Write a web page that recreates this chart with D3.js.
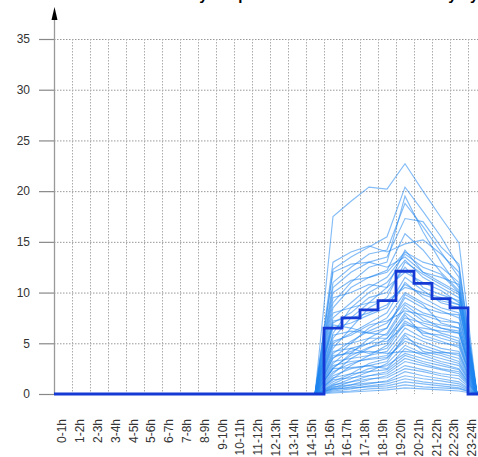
<!DOCTYPE html>
<html>
<head>
<meta charset="utf-8">
<script src="https://cdn.jsdelivr.net/npm/d3@7"></script>
<style>
  body { margin: 0; background: #fff; }
  svg { display: block; font-family: "Liberation Sans", Arial, sans-serif; }
</style>
</head>
<body>
<script>
// hour slots on the x axis
var hours = ["0-1h","1-2h","2-3h","3-4h","4-5h","5-6h","6-7h","7-8h","8-9h","9-10h","10-11h","11-12h",
             "12-13h","13-14h","14-15h","15-16h","16-17h","17-18h","18-19h","19-20h","20-21h","21-22h","22-23h","23-24h"];
// only these hours have non-zero values, every other hour is 0
var activeHours = ["15-16h","16-17h","17-18h","18-19h","19-20h","20-21h","21-22h","22-23h"];
var yTicks = [0, 5, 10, 15, 20, 25, 30, 35];

// one row per day, values for activeHours
var days = [
  [17.5, 19.0, 20.4, 20.2, 22.7, 20.0, 17.4, 14.9],
  [12.3, 13.5, 14.5, 15.5, 20.4, 18.0, 15.5, 12.5],
  [11.0, 12.5, 13.8, 14.2, 18.8, 16.5, 14.0, 11.5],
  [10.5, 12.0, 13.0, 13.5, 17.3, 17.0, 14.5, 12.8],
  [13.0, 14.0, 14.6, 14.0, 14.8, 15.2, 13.8, 12.0],
  [9.0, 11.0, 12.5, 13.0, 19.5, 16.0, 13.0, 10.5],
  [8.5, 10.5, 11.5, 12.0, 14.0, 13.0, 12.5, 11.0],
  [12.0, 12.8, 13.0, 12.5, 13.5, 12.0, 11.5, 10.8],
  [7.5, 9.0, 10.5, 11.5, 13.8, 12.5, 11.8, 10.0],
  [6.0, 8.5, 10.0, 11.0, 13.2, 11.5, 10.5, 9.5],
  [9.5, 10.0, 10.8, 10.5, 12.0, 11.0, 10.2, 9.0],
  [5.5, 7.5, 9.0, 10.5, 14.2, 12.0, 11.0, 10.0],
  [7.0, 8.0, 9.5, 10.0, 12.5, 10.5, 9.8, 9.2],
  [4.5, 6.5, 8.5, 9.5, 13.0, 11.8, 10.8, 9.8],
  [8.0, 8.5, 9.0, 9.2, 10.5, 10.0, 9.5, 8.8],
  [6.5, 7.0, 7.8, 8.5, 11.5, 10.2, 9.0, 8.5],
  [5.0, 6.0, 7.0, 8.0, 11.0, 9.5, 8.5, 8.0],
  [3.5, 5.0, 6.5, 7.5, 10.0, 9.0, 8.2, 7.5],
  [6.8, 6.5, 6.0, 6.5, 9.5, 8.5, 8.0, 7.8],
  [4.0, 5.2, 6.2, 7.0, 9.0, 8.0, 7.5, 7.0],
  [2.5, 4.0, 5.5, 6.5, 9.8, 8.8, 7.0, 6.5],
  [5.8, 6.2, 6.0, 5.8, 8.5, 7.2, 6.8, 6.5],
  [3.0, 4.5, 5.0, 6.0, 8.8, 7.5, 6.5, 6.0],
  [4.8, 5.0, 5.5, 5.5, 7.5, 7.0, 6.5, 6.2],
  [2.0, 3.5, 4.5, 5.5, 8.0, 6.8, 6.0, 5.5],
  [4.2, 4.5, 4.0, 4.5, 7.0, 6.0, 5.8, 5.2],
  [3.8, 4.0, 4.2, 4.0, 4.2, 4.0, 4.1, 4.0],
  [1.5, 2.8, 3.8, 4.8, 7.2, 6.2, 5.5, 5.0],
  [3.2, 3.5, 3.8, 4.2, 6.5, 5.5, 5.0, 4.8],
  [2.2, 3.0, 3.5, 3.8, 6.0, 5.2, 4.5, 4.2],
  [1.2, 2.0, 3.0, 3.5, 5.5, 4.8, 4.2, 3.8],
  [2.8, 3.2, 3.4, 3.6, 5.2, 4.5, 4.0, 3.5],
  [1.8, 2.5, 2.8, 3.2, 5.8, 4.2, 3.8, 3.2],
  [0.8, 1.5, 2.2, 3.0, 4.8, 4.0, 3.5, 3.0],
  [2.5, 2.6, 2.8, 2.5, 4.5, 3.8, 3.2, 2.8],
  [1.0, 1.8, 2.5, 2.8, 4.0, 3.5, 3.0, 2.5],
  [1.6, 2.0, 2.2, 2.4, 3.8, 3.2, 2.8, 2.4],
  [0.6, 1.2, 1.8, 2.2, 3.5, 3.0, 2.5, 2.2],
  [1.4, 1.6, 1.8, 2.0, 3.2, 2.8, 2.4, 2.0],
  [0.5, 0.9, 1.4, 1.8, 2.8, 2.4, 2.0, 1.8],
  [0.9, 1.2, 1.5, 1.6, 2.5, 2.2, 1.8, 1.5],
  [0.4, 0.7, 1.0, 1.3, 2.2, 1.8, 1.5, 1.2],
  [0.7, 0.9, 1.1, 1.2, 1.8, 1.5, 1.3, 1.0],
  [0.3, 0.5, 0.8, 1.0, 1.5, 1.2, 1.0, 0.8],
  [0.5, 0.6, 0.7, 0.8, 1.2, 1.0, 0.8, 0.6],
  [0.2, 0.3, 0.5, 0.6, 0.9, 0.7, 0.6, 0.5],
  [0.1, 0.2, 0.3, 0.4, 0.6, 0.5, 0.4, 0.3],
  [5.2, 5.8, 6.8, 7.2, 8.2, 7.8, 7.2, 7.0],
  [7.2, 7.5, 8.0, 8.8, 10.8, 9.8, 9.2, 8.8],
  [3.6, 4.2, 5.0, 5.2, 6.8, 6.5, 6.2, 6.0],
  [10.0, 11.2, 11.5, 12.2, 15.8, 14.2, 12.0, 10.2],
  [2.6, 3.8, 4.6, 5.0, 7.8, 5.8, 5.2, 4.6]
];

// mean profile (thick step line)
var average = [0,0,0,0,0,0,0,0,0,0,0,0,0,0,0, 6.5, 7.5, 8.3, 9.2, 12.1, 10.9, 9.4, 8.5, 0];

var title = "Hourly kW profile of the load for each day by group";

var width = 478, height = 457;
var svg = d3.select("body").append("svg").attr("width", width).attr("height", height);

var x = d3.scaleBand().domain(hours).range([54, 54 + 18 * hours.length]).padding(0);
var y = d3.scaleLinear().domain([0, 35]).range([394, 39]);
var bw = x.bandwidth();
// tick labels sit a little tighter than the bands
var xLab = d3.scalePoint().domain(hours).range([62, 472]);

/* title, mostly above the top edge */
svg.append("text")
  .attr("x", 160).attr("y", -0.5)
  .style("font-size", "15px").style("font-weight", "bold")
  .text(title);

/* dotted grid */
svg.append("g").selectAll("line.h")
  .data(yTicks.filter(function(d){ return d > 0; }))
  .enter().append("line")
  .attr("x1", 54).attr("x2", width)
  .attr("y1", function(d){ return y(d) + 0.5; }).attr("y2", function(d){ return y(d) + 0.5; })
  .attr("stroke", "#999").attr("stroke-dasharray", "1.5,1.5");

svg.append("g").selectAll("line.v")
  .data(hours.slice(1))
  .enter().append("line")
  .attr("x1", function(d){ return x(d) + 0.5; }).attr("x2", function(d){ return x(d) + 0.5; })
  .attr("y1", y(35)).attr("y2", y(0))
  .attr("stroke", "#aaa").attr("stroke-dasharray", "1.5,1.5");

/* y axis */
var yAxis = svg.append("g")
  .attr("transform", "translate(54,0)")
  .call(d3.axisLeft(y).tickValues(yTicks).tickSize(15).tickPadding(9).tickSizeOuter(0));
yAxis.select(".domain").remove();
yAxis.selectAll(".tick line").attr("stroke", "#888").attr("stroke-width", 1.2);
yAxis.selectAll(".tick text")
  .style("font-size", "12px").style("font-family", "Liberation Sans, Arial, sans-serif").attr("fill", "#333");

svg.append("line")
  .attr("x1", 54.5).attr("x2", 54.5).attr("y1", 394).attr("y2", 18)
  .attr("stroke", "#999").attr("stroke-width", 1.3);
svg.append("path")
  .attr("d", "M54.5,7 L51.5,20 L57.5,20 Z")
  .attr("fill", "#000");

/* x labels */
svg.append("g").selectAll("text")
  .data(hours)
  .enter().append("text")
  .attr("transform", function(d){ return "translate(" + xLab(d) + ",419) rotate(-90)"; })
  .attr("dy", "0.35em")
  .attr("text-anchor", "end")
  .attr("fill", "#333")
  .style("font-size", "12px")
  .text(function(d){ return d; });

/* daily lines */
function fullDay(row) {
  return hours.map(function(h){
    var i = activeHours.indexOf(h);
    return { hour: h, value: i < 0 ? 0 : row[i] };
  });
}

var line = d3.line()
  .x(function(d){ return x(d.hour) + bw / 2; })
  .y(function(d){ return y(d.value); });

svg.append("g").selectAll("path")
  .data(days.map(fullDay))
  .enter().append("path")
  .attr("d", line)
  .attr("fill", "none")
  .attr("stroke", "#1f85f0")
  .attr("stroke-opacity", 0.55)
  .attr("stroke-width", 1.15);

/* average step line */
var avgPts = hours.map(function(h, i){ return { x: x(h), value: average[i] }; });
avgPts.push({ x: x(hours[hours.length - 1]) + bw, value: average[average.length - 1] });

svg.append("path")
  .datum(avgPts)
  .attr("d", d3.line().curve(d3.curveStepAfter)
    .x(function(d){ return d.x; })
    .y(function(d){ return y(d.value); }))
  .attr("fill", "none")
  .attr("stroke", "#1439d4")
  .attr("stroke-width", 2.8);
</script>
</body>
</html>
